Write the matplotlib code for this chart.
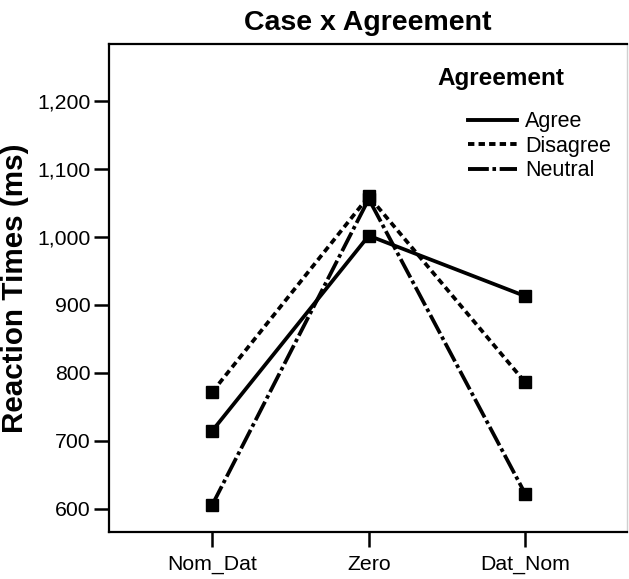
import matplotlib
matplotlib.use("Agg")
import matplotlib.pyplot as plt
import matplotlib.ticker as mticker
from matplotlib.lines import Line2D

plt.rcParams['font.family'] = ['Liberation Sans', 'DejaVu Sans']
plt.rcParams['lines.scale_dashes'] = False

# data
cases = ['Nom_Dat', 'Zero', 'Dat_Nom']
agree = [715, 1002, 913]
disagree = [772, 1060, 786]
neutral = [606, 1056, 622]

styles = {
    'Agree': '-',
    'Disagree': (0, (4.6, 3.0)),
    'Neutral': (0, (15, 2.6, 2.6, 2.6)),
}
series = {'Agree': agree, 'Disagree': disagree, 'Neutral': neutral}

fig = plt.figure(figsize=(6.29, 5.79), dpi=100)
ax = fig.add_axes([109 / 629, 1 - 532 / 579, (627 - 109) / 629, (532 - 44) / 579])

x = range(len(cases))
for name, vals in series.items():
    ax.plot(x, vals, color='black', linestyle=styles[name], linewidth=2.7,
            marker='s', markersize=8.4)

ax.set_xlim(-0.66, 2.65)
ax.set_ylim(566, 1284)
ax.set_xticks(list(x), cases)
ax.set_yticks(range(600, 1201, 100))
ax.yaxis.set_major_formatter(mticker.FuncFormatter(lambda v, p: f'{int(v):,}'))
ax.tick_params(axis='both', length=10.5, width=1.8, labelsize=15.3)
ax.tick_params(axis='x', pad=6)
ax.tick_params(axis='y', pad=3)

for side in ['left', 'bottom', 'top']:
    ax.spines[side].set_linewidth(1.6)
ax.spines['right'].set_color('#d0d0d0')
ax.spines['right'].set_linewidth(1)

ax.set_title('Case x Agreement', fontsize=20.5, fontweight='bold', pad=10)
ax.set_ylabel('Reaction Times (ms)', fontsize=21.3, fontweight='bold', labelpad=6)

# legend: title as its own text, entries without markers
ax.text(0.633, 0.930, 'Agreement', transform=ax.transAxes, ha='left', va='center',
        fontsize=17.5, fontweight='bold')
handles = [Line2D([], [], color='black', linestyle=styles[n], linewidth=2.8)
           for n in series]
ax.legend(handles, list(series), loc='upper left', bbox_to_anchor=(0.693, 0.862),
          frameon=False, fontsize=15.5, handlelength=2.28, handletextpad=0.37,
          labelspacing=0.16, borderpad=0, borderaxespad=0)

fig.savefig('out.png', dpi=100)
